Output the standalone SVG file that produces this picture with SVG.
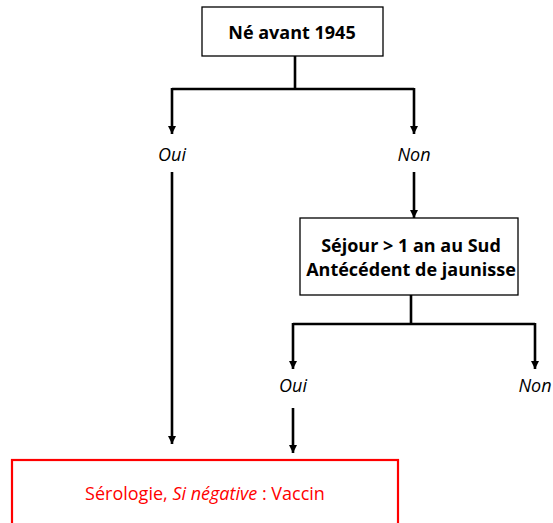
<svg xmlns="http://www.w3.org/2000/svg" width="553" height="523" viewBox="0 0 553 523">
<style>
.box{fill:#fff;stroke:#000;stroke-width:1.3}
.red{fill:#fff;stroke:#ff0000;stroke-width:2.2}
.ln{fill:none;stroke:#000;stroke-width:2.6}
.t{font-family:"Open Sans","Liberation Sans",sans-serif;font-size:18px;text-anchor:middle;fill:#000}
.b{font-weight:bold}
.i{font-style:italic}
</style>
<defs>
<marker id="ah" viewBox="0 0 10 10" refX="10" refY="5" markerWidth="3.2" markerHeight="3.2" orient="auto" markerUnits="strokeWidth">
<path d="M0,0 L10,5 L0,10 z" fill="#000"/>
</marker>
</defs>
<g id="connectors">
<path class="ln" d="M295,56 V89"/>
<path class="ln" d="M172,89 H414"/>
<path class="ln" d="M172,88 V134" marker-end="url(#ah)"/>
<path class="ln" d="M414,88 V134" marker-end="url(#ah)"/>
<path class="ln" d="M172,172 V444" marker-end="url(#ah)"/>
<path class="ln" d="M414,172 V218" marker-end="url(#ah)"/>
<path class="ln" d="M411,295 V324"/>
<path class="ln" d="M293,324 H535"/>
<path class="ln" d="M293,323 V369" marker-end="url(#ah)"/>
<path class="ln" d="M535,323 V369" marker-end="url(#ah)"/>
<path class="ln" d="M293,408 V453" marker-end="url(#ah)"/>
</g>
<g id="n1">
<rect class="box" x="202" y="7" width="181" height="49"/>
<text class="t b" x="292" y="39">Né avant 1945</text>
</g>
<g id="l1"><text class="t i" x="172" y="161">Oui</text></g>
<g id="l2"><text class="t i" x="414" y="161">Non</text></g>
<g id="n2">
<rect class="box" x="300" y="218" width="218" height="77"/>
<text class="t b" x="411" y="252">Séjour &gt; 1 an au Sud</text>
<text class="t b" x="411" y="276">Antécédent de jaunisse</text>
</g>
<g id="l3"><text class="t i" x="293" y="392">Oui</text></g>
<g id="l4"><text class="t i" x="535" y="392">Non</text></g>
<g id="n3">
<rect class="red" x="12" y="460" width="386" height="80"/>
<text class="t" x="205" y="500" style="fill:#ff0000">Sérologie, <tspan class="i">Si négative</tspan> : Vaccin</text>
</g>
</svg>
